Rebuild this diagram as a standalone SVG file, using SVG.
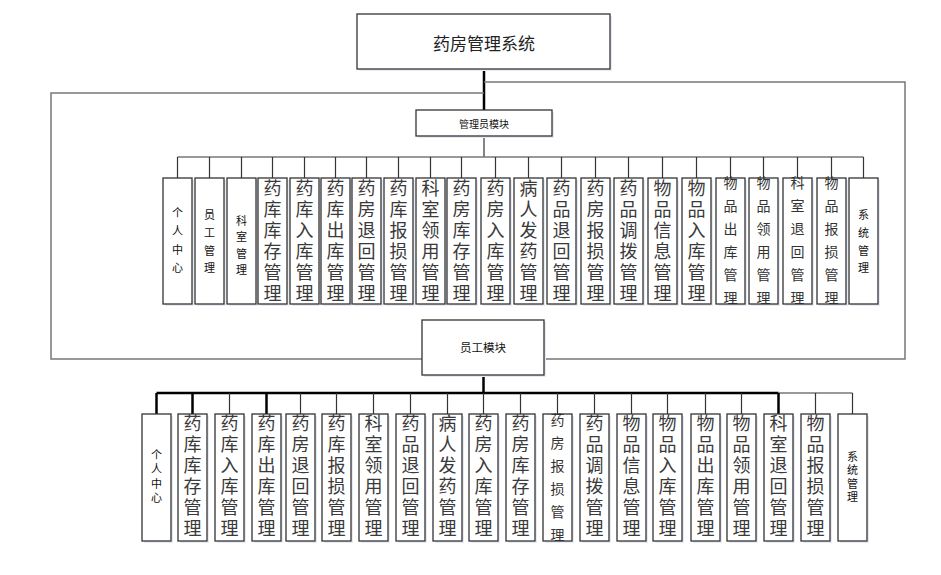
<svg xmlns="http://www.w3.org/2000/svg" width="941" height="575" viewBox="0 0 941 575">
<style>
text{font-family:"Noto Sans CJK SC","Noto Sans",sans-serif;text-anchor:middle;dominant-baseline:central}
.v{writing-mode:vertical-rl;text-anchor:start}
.box{fill:#fff;stroke:#333;stroke-width:1.3}
.sh{fill:#e7ebf3}
.L{font-size:18px;fill:#3a3a3a;letter-spacing:3px}
.M{font-size:14px;fill:#333;letter-spacing:9px}
.S{font-size:11px;fill:#111}
.T{font-size:17px;fill:#222}
.thin{fill:none;stroke:#777;stroke-width:1.5}
.dk{fill:none;stroke:#333;stroke-width:1.2}
.bk{fill:none;stroke:#000;stroke-width:2.5}
</style>
<rect width="941" height="575" fill="#fff"/>
<g id="connectors">
<line class="bk" x1="484" y1="69" x2="484" y2="110"/>
<polyline class="thin" points="484,82 905,82 905,359 545,359"/>
<polyline class="thin" points="484,93 51,93 51,359 422,359"/>
<line class="dk" x1="484" y1="136" x2="484" y2="157"/>
<line class="thin" x1="177.5" y1="157" x2="863.5" y2="157"/>
<g class="dk">
<line x1="177.5" y1="157" x2="177.5" y2="178"/><line x1="209.5" y1="157" x2="209.5" y2="178"/><line x1="241.5" y1="157" x2="241.5" y2="178"/><line x1="272.5" y1="157" x2="272.5" y2="178"/><line x1="304.5" y1="157" x2="304.5" y2="178"/><line x1="335.5" y1="157" x2="335.5" y2="178"/><line x1="366.5" y1="157" x2="366.5" y2="178"/><line x1="398.5" y1="157" x2="398.5" y2="178"/><line x1="430.5" y1="157" x2="430.5" y2="178"/><line x1="461.5" y1="157" x2="461.5" y2="178"/><line x1="495.5" y1="157" x2="495.5" y2="178"/><line x1="528.5" y1="157" x2="528.5" y2="178"/><line x1="561.5" y1="157" x2="561.5" y2="178"/><line x1="595.5" y1="157" x2="595.5" y2="178"/><line x1="628.5" y1="157" x2="628.5" y2="178"/><line x1="662.5" y1="157" x2="662.5" y2="178"/><line x1="696.5" y1="157" x2="696.5" y2="178"/><line x1="730.5" y1="157" x2="730.5" y2="178"/><line x1="763.5" y1="157" x2="763.5" y2="178"/><line x1="797.5" y1="157" x2="797.5" y2="178"/><line x1="831.5" y1="157" x2="831.5" y2="178"/><line x1="863.5" y1="157" x2="863.5" y2="178"/>
</g>
<line class="bk" x1="483.5" y1="375" x2="483.5" y2="393"/>
<line class="bk" x1="156.5" y1="393" x2="778.5" y2="393"/>
<line class="thin" x1="778.5" y1="393" x2="852.5" y2="393"/>
<g class="bk">
<line x1="156.5" y1="393" x2="156.5" y2="414"/><line x1="192.5" y1="393" x2="192.5" y2="414"/><line x1="266.5" y1="393" x2="266.5" y2="414"/><line x1="778.5" y1="393" x2="778.5" y2="414"/>
</g>
<g class="dk">
<line x1="229.5" y1="393" x2="229.5" y2="414"/><line x1="300.5" y1="393" x2="300.5" y2="414"/><line x1="336.5" y1="393" x2="336.5" y2="414"/><line x1="373.5" y1="393" x2="373.5" y2="414"/><line x1="410.5" y1="393" x2="410.5" y2="414"/><line x1="447.5" y1="393" x2="447.5" y2="414"/><line x1="483.5" y1="393" x2="483.5" y2="414"/><line x1="520.5" y1="393" x2="520.5" y2="414"/><line x1="557.5" y1="393" x2="557.5" y2="414"/><line x1="594.5" y1="393" x2="594.5" y2="414"/><line x1="631.5" y1="393" x2="631.5" y2="414"/><line x1="667.5" y1="393" x2="667.5" y2="414"/><line x1="705.5" y1="393" x2="705.5" y2="414"/><line x1="741.5" y1="393" x2="741.5" y2="414"/><line x1="815.5" y1="393" x2="815.5" y2="414"/><line x1="852.5" y1="393" x2="852.5" y2="414"/>
</g>
</g>
<g id="root"><rect class="sh" x="359" y="16" width="253" height="55"/><rect class="box" x="357" y="14" width="253" height="55"/><text class="T" x="484" y="42">药房管理系统</text></g>
<g id="admin"><rect class="sh" x="418" y="112" width="136" height="26"/><rect class="box" x="416" y="110" width="136" height="26"/><text class="S" style="font-size:10px" x="484" y="123">管理员模块</text></g>
<g id="staff"><rect class="sh" x="424" y="322" width="122" height="55"/><rect class="box" x="422" y="320" width="122" height="55"/><text class="S" style="font-size:11.5px" x="483" y="347">员工模块</text></g>

<g id="a1"><rect class="sh" x="165" y="180" width="29" height="126"/><rect class="box" x="163" y="178" width="29" height="126"/><text class="S v" style="letter-spacing:7.3px" x="177.5" y="207.5">个人中心</text></g>
<g id="a2"><rect class="sh" x="197" y="180" width="29" height="126"/><rect class="box" x="195" y="178" width="29" height="126"/><text class="S v" style="letter-spacing:6.7px" x="209.5" y="209.5">员工管理</text></g>
<g id="a3"><rect class="sh" x="229" y="180" width="29" height="126"/><rect class="box" x="227" y="178" width="29" height="126"/><text class="S v" style="letter-spacing:5.3px" x="241.5" y="215.5">科室管理</text></g>
<g id="a4"><rect class="sh" x="260" y="180" width="29" height="126"/><rect class="box" x="258" y="178" width="29" height="126"/><text class="L v" x="272.5" y="179">药库库存管理</text></g>
<g id="a5"><rect class="sh" x="292" y="180" width="29" height="126"/><rect class="box" x="290" y="178" width="29" height="126"/><text class="L v" x="304.5" y="179">药库入库管理</text></g>
<g id="a6"><rect class="sh" x="323" y="180" width="29" height="126"/><rect class="box" x="321" y="178" width="29" height="126"/><text class="L v" x="335.5" y="179">药库出库管理</text></g>
<g id="a7"><rect class="sh" x="354" y="180" width="29" height="126"/><rect class="box" x="352" y="178" width="29" height="126"/><text class="L v" x="366.5" y="179">药房退回管理</text></g>
<g id="a8"><rect class="sh" x="386" y="180" width="29" height="126"/><rect class="box" x="384" y="178" width="29" height="126"/><text class="L v" x="398.5" y="179">药库报损管理</text></g>
<g id="a9"><rect class="sh" x="418" y="180" width="29" height="126"/><rect class="box" x="416" y="178" width="29" height="126"/><text class="L v" x="430.5" y="179">科室领用管理</text></g>
<g id="a10"><rect class="sh" x="449" y="180" width="29" height="126"/><rect class="box" x="447" y="178" width="29" height="126"/><text class="L v" x="461.5" y="179">药房库存管理</text></g>
<g id="a11"><rect class="sh" x="483" y="180" width="29" height="126"/><rect class="box" x="481" y="178" width="29" height="126"/><text class="L v" x="495.5" y="179">药房入库管理</text></g>
<g id="a12"><rect class="sh" x="516" y="180" width="29" height="126"/><rect class="box" x="514" y="178" width="29" height="126"/><text class="L v" x="528.5" y="179">病人发药管理</text></g>
<g id="a13"><rect class="sh" x="549" y="180" width="29" height="126"/><rect class="box" x="547" y="178" width="29" height="126"/><text class="L v" x="561.5" y="179">药品退回管理</text></g>
<g id="a14"><rect class="sh" x="583" y="180" width="29" height="126"/><rect class="box" x="581" y="178" width="29" height="126"/><text class="L v" x="595.5" y="179">药房报损管理</text></g>
<g id="a15"><rect class="sh" x="616" y="180" width="29" height="126"/><rect class="box" x="614" y="178" width="29" height="126"/><text class="L v" x="628.5" y="179">药品调拨管理</text></g>
<g id="a16"><rect class="sh" x="650" y="180" width="29" height="126"/><rect class="box" x="648" y="178" width="29" height="126"/><text class="L v" x="662.5" y="179">物品信息管理</text></g>
<g id="a17"><rect class="sh" x="684" y="180" width="29" height="126"/><rect class="box" x="682" y="178" width="29" height="126"/><text class="L v" x="696.5" y="179">物品入库管理</text></g>
<g id="a18"><rect class="sh" x="718" y="180" width="29" height="126"/><rect class="box" x="716" y="178" width="29" height="126"/><text class="M v" x="730.5" y="176">物品出库管理</text></g>
<g id="a19"><rect class="sh" x="751" y="180" width="29" height="126"/><rect class="box" x="749" y="178" width="29" height="126"/><text class="M v" x="763.5" y="176">物品领用管理</text></g>
<g id="a20"><rect class="sh" x="785" y="180" width="29" height="126"/><rect class="box" x="783" y="178" width="29" height="126"/><text class="M v" x="797.5" y="176">科室退回管理</text></g>
<g id="a21"><rect class="sh" x="819" y="180" width="29" height="126"/><rect class="box" x="817" y="178" width="29" height="126"/><text class="M v" x="831.5" y="176">物品报损管理</text></g>
<g id="a22"><rect class="sh" x="851" y="180" width="29" height="126"/><rect class="box" x="849" y="178" width="29" height="126"/><text class="S v" style="letter-spacing:6.7px" x="863.5" y="209.5">系统管理</text></g>

<g id="e1"><rect class="sh" x="144" y="416" width="29" height="127"/><rect class="box" x="142" y="414" width="29" height="127"/><text class="S v" style="letter-spacing:3.3px" x="156.5" y="449.5">个人中心</text></g>
<g id="e2"><rect class="sh" x="180" y="416" width="29" height="127"/><rect class="box" x="178" y="414" width="29" height="127"/><text class="L v" x="192.5" y="414">药库库存管理</text></g>
<g id="e3"><rect class="sh" x="217" y="416" width="29" height="127"/><rect class="box" x="215" y="414" width="29" height="127"/><text class="L v" x="229.5" y="414">药库入库管理</text></g>
<g id="e4"><rect class="sh" x="254" y="416" width="29" height="127"/><rect class="box" x="252" y="414" width="29" height="127"/><text class="L v" x="266.5" y="414">药库出库管理</text></g>
<g id="e5"><rect class="sh" x="288" y="416" width="29" height="127"/><rect class="box" x="286" y="414" width="29" height="127"/><text class="L v" x="300.5" y="414">药房退回管理</text></g>
<g id="e6"><rect class="sh" x="324" y="416" width="29" height="127"/><rect class="box" x="322" y="414" width="29" height="127"/><text class="L v" x="336.5" y="414">药库报损管理</text></g>
<g id="e7"><rect class="sh" x="361" y="416" width="29" height="127"/><rect class="box" x="359" y="414" width="29" height="127"/><text class="L v" x="373.5" y="414">科室领用管理</text></g>
<g id="e8"><rect class="sh" x="398" y="416" width="29" height="127"/><rect class="box" x="396" y="414" width="29" height="127"/><text class="L v" x="410.5" y="414">药品退回管理</text></g>
<g id="e9"><rect class="sh" x="435" y="416" width="29" height="127"/><rect class="box" x="433" y="414" width="29" height="127"/><text class="L v" x="447.5" y="414">病人发药管理</text></g>
<g id="e10"><rect class="sh" x="471" y="416" width="29" height="127"/><rect class="box" x="469" y="414" width="29" height="127"/><text class="L v" x="483.5" y="414">药房入库管理</text></g>
<g id="e11"><rect class="sh" x="508" y="416" width="29" height="127"/><rect class="box" x="506" y="414" width="29" height="127"/><text class="L v" x="520.5" y="414">药房库存管理</text></g>
<g id="e12"><rect class="sh" x="545" y="416" width="29" height="127"/><rect class="box" x="543" y="414" width="29" height="127"/><text class="M v" x="557.5" y="413">药房报损管理</text></g>
<g id="e13"><rect class="sh" x="582" y="416" width="29" height="127"/><rect class="box" x="580" y="414" width="29" height="127"/><text class="L v" x="594.5" y="414">药品调拨管理</text></g>
<g id="e14"><rect class="sh" x="619" y="416" width="29" height="127"/><rect class="box" x="617" y="414" width="29" height="127"/><text class="L v" x="631.5" y="414">物品信息管理</text></g>
<g id="e15"><rect class="sh" x="655" y="416" width="29" height="127"/><rect class="box" x="653" y="414" width="29" height="127"/><text class="L v" x="667.5" y="414">物品入库管理</text></g>
<g id="e16"><rect class="sh" x="693" y="416" width="29" height="127"/><rect class="box" x="691" y="414" width="29" height="127"/><text class="L v" x="705.5" y="414">物品出库管理</text></g>
<g id="e17"><rect class="sh" x="729" y="416" width="29" height="127"/><rect class="box" x="727" y="414" width="29" height="127"/><text class="L v" x="741.5" y="414">物品领用管理</text></g>
<g id="e18"><rect class="sh" x="766" y="416" width="29" height="127"/><rect class="box" x="764" y="414" width="29" height="127"/><text class="L v" x="778.5" y="414">科室退回管理</text></g>
<g id="e19"><rect class="sh" x="803" y="416" width="29" height="127"/><rect class="box" x="801" y="414" width="29" height="127"/><text class="L v" x="815.5" y="414">物品报损管理</text></g>
<g id="e20"><rect class="sh" x="840" y="416" width="29" height="127"/><rect class="box" x="838" y="414" width="29" height="127"/><text class="S v" style="letter-spacing:2.3px" x="852.5" y="451.5">系统管理</text></g>
</svg>
